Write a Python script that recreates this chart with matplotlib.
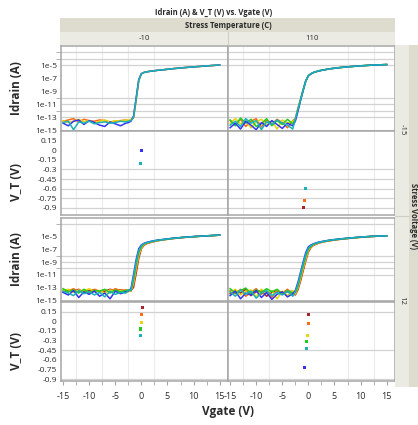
import matplotlib
matplotlib.use("Agg")
import matplotlib.pyplot as plt
from matplotlib.patches import Rectangle
from matplotlib.ticker import FixedLocator, NullFormatter

plt.rcParams["font.family"] = ["Open Sans", "DejaVu Sans"]

# ---- data -------------------------------------------------------------
VGATE = [-15, -14, -13, -12, -11, -10, -9, -8, -7, -6, -5, -4, -3,
         -2.5, -2, -1.5, -1, -0.5, 0, 0.5, 1, 2, 3, 4, 6, 8, 10, 12, 15]

TEMPS = ["-10", "110"]
VOLTS = ["-15", "12"]

# log10(Idrain) per sweep, one list per device colour
TL_BLUE = [-13.9, -14.3, -13.6, -13.4, -14.1, -13.5, -13.8, -14.2, -14.4, -13.7, -14.0, -14.3, -13.9,
           -13.8, -13.6, -12.8, -10.0, -7.2, -6.28, -6.1, -6.0, -5.88, -5.78, -5.7, -5.52, -5.37, -5.24, -5.12, -4.95]
TL_ORANGE = [-13.6, -13.4, -13.2, -13.7, -13.3, -13.5, -13.6, -13.4, -13.5, -13.8, -13.6, -13.5, -13.4,
             -13.5, -13.4, -13.1, -10.4, -7.4, -6.32, -6.1, -6.0, -5.88, -5.78, -5.7, -5.52, -5.37, -5.24, -5.12, -4.95]
TL_YELLOW = [-13.5, -13.8, -13.6, -13.3, -13.7, -13.5, -13.9, -13.6, -13.4, -13.7, -13.5, -13.6, -13.4,
             -13.5, -13.3, -13.0, -10.3, -7.3, -6.3, -6.1, -6.0, -5.88, -5.78, -5.7, -5.52, -5.37, -5.24, -5.12, -4.95]
TL_TEAL = [-13.8, -13.6, -14.9, -13.7, -13.9, -13.6, -14.0, -13.8, -13.7, -13.9, -13.8, -13.6, -13.7,
           -13.6, -13.5, -13.0, -10.2, -7.3, -6.3, -6.1, -6.0, -5.88, -5.78, -5.7, -5.52, -5.37, -5.24, -5.12, -4.95]

TR_BLUE = [-14.6, -13.9, -14.8, -13.6, -14.2, -14.9, -13.8, -14.4, -13.5, -14.1, -14.7, -13.9, -14.3,
           -13.6, -12.1, -10.4, -8.9, -7.4, -6.6, -6.3, -6.1, -5.85, -5.7, -5.55, -5.35, -5.2, -5.08, -4.98, -4.88]
TR_ORANGE = [-13.5, -14.1, -13.3, -14.4, -13.6, -13.2, -14.5, -13.4, -14.0, -13.3, -13.8, -14.6, -13.5,
             -13.2, -11.6, -10.2, -8.7, -7.4, -6.6, -6.3, -6.1, -5.85, -5.7, -5.55, -5.35, -5.2, -5.08, -4.98, -4.88]
TR_YELLOW = [-13.9, -13.2, -14.0, -13.5, -14.6, -13.7, -13.3, -14.2, -13.6, -14.8, -13.4, -13.9, -13.6,
             -13.4, -11.8, -10.3, -8.8, -7.4, -6.6, -6.3, -6.1, -5.85, -5.7, -5.55, -5.35, -5.2, -5.08, -4.98, -4.88]
TR_GREEN = [-13.4, -14.3, -13.1, -13.9, -13.3, -14.4, -14.0, -13.2, -14.3, -13.5, -14.1, -13.3, -14.0,
            -13.3, -11.7, -10.3, -8.8, -7.4, -6.6, -6.3, -6.1, -5.85, -5.7, -5.55, -5.35, -5.2, -5.08, -4.98, -4.88]
TR_TEAL = [-14.2, -13.6, -14.4, -13.2, -13.9, -13.5, -14.9, -13.7, -14.1, -13.4, -13.9, -14.2, -14.8,
           -13.3, -11.8, -10.3, -8.8, -7.4, -6.6, -6.3, -6.1, -5.85, -5.7, -5.55, -5.35, -5.2, -5.08, -4.98, -4.88]

BL_RED = [-13.7, -13.4, -13.6, -13.3, -13.8, -13.5, -13.4, -13.7, -13.6, -13.3, -13.5, -13.4, -13.6,
          -13.6, -13.5, -13.0, -10.8, -8.4, -6.9, -6.35, -6.1, -5.85, -5.66, -5.52, -5.3, -5.13, -5.0, -4.9, -4.76]
BL_ORANGE = [-13.4, -13.6, -13.2, -13.7, -13.5, -13.9, -13.3, -13.6, -13.4, -13.7, -13.2, -13.5, -13.4,
             -13.5, -13.6, -12.6, -10.3, -8.1, -6.8, -6.3, -6.06, -5.82, -5.64, -5.51, -5.29, -5.12, -5.0, -4.9, -4.76]
BL_YELLOW = [-13.5, -13.3, -13.8, -13.4, -13.6, -13.2, -13.7, -13.5, -13.9, -13.4, -13.6, -13.5, -13.8,
             -13.7, -13.5, -12.2, -9.8, -7.8, -6.7, -6.22, -6.02, -5.79, -5.62, -5.5, -5.28, -5.12, -5.0, -4.89, -4.76]
BL_GREEN = [-13.2, -13.7, -13.4, -13.9, -13.3, -13.8, -13.5, -13.6, -13.3, -13.9, -13.4, -13.7, -13.5,
            -13.4, -13.5, -11.8, -9.4, -7.5, -6.55, -6.15, -5.98, -5.76, -5.6, -5.48, -5.27, -5.11, -4.99, -4.89, -4.75]
BL_BLUE = [-13.8, -14.2, -13.5, -14.6, -13.7, -14.1, -13.6, -14.4, -13.9, -14.8, -13.6, -14.0, -13.7,
           -13.6, -13.2, -11.0, -8.6, -6.9, -6.3, -6.05, -5.9, -5.7, -5.55, -5.45, -5.25, -5.1, -4.98, -4.88, -4.75]
BL_TEAL = [-13.6, -13.9, -14.3, -13.5, -14.0, -13.7, -14.2, -13.8, -14.5, -13.6, -14.1, -13.8, -13.9,
           -13.5, -13.4, -11.4, -9.0, -7.2, -6.4, -6.1, -5.95, -5.73, -5.57, -5.47, -5.26, -5.11, -4.99, -4.88, -4.75]

BR_RED = [-14.0, -13.5, -13.9, -13.3, -14.3, -13.7, -13.5, -14.4, -13.8, -13.5, -14.0, -13.7, -13.6,
          -14.2, -13.4, -12.0, -10.4, -8.8, -7.4, -6.7, -6.35, -6.0, -5.8, -5.65, -5.42, -5.25, -5.1, -4.98, -4.86]
BR_ORANGE = [-13.5, -14.0, -13.3, -14.4, -13.8, -13.2, -14.1, -13.6, -14.6, -13.4, -13.9, -13.3, -14.2,
             -14.1, -13.2, -11.8, -10.2, -8.6, -7.25, -6.62, -6.3, -5.97, -5.78, -5.63, -5.41, -5.24, -5.09, -4.97, -4.86]
BR_YELLOW = [-13.8, -13.3, -14.2, -13.6, -13.4, -14.5, -13.3, -14.0, -13.5, -14.8, -13.6, -14.3, -13.5,
             -14.0, -13.0, -11.5, -9.9, -8.4, -7.1, -6.55, -6.25, -5.94, -5.76, -5.61, -5.39, -5.23, -5.08, -4.96, -4.86]
BR_GREEN = [-13.2, -13.9, -13.5, -13.1, -14.0, -13.4, -13.8, -13.2, -13.7, -13.3, -14.1, -13.5, -13.9,
            -13.8, -12.8, -11.2, -9.6, -8.1, -6.95, -6.5, -6.2, -5.91, -5.74, -5.59, -5.38, -5.22, -5.07, -4.96, -4.85]
BR_BLUE = [-14.3, -13.6, -14.8, -13.9, -14.2, -13.5, -14.6, -13.8, -14.9, -14.1, -13.7, -14.5, -14.0,
           -13.5, -12.2, -10.6, -9.0, -7.5, -6.6, -6.3, -6.1, -5.85, -5.7, -5.55, -5.35, -5.2, -5.05, -4.95, -4.85]
BR_TEAL = [-13.7, -14.4, -13.4, -14.1, -13.6, -14.7, -13.9, -13.5, -14.3, -13.8, -14.2, -13.6, -14.4,
           -13.7, -12.5, -10.9, -9.3, -7.8, -6.8, -6.4, -6.15, -5.88, -5.72, -5.57, -5.36, -5.21, -5.06, -4.95, -4.85]

# threshold voltage per device (plotted at Vgate = V_T)
VT_TL = [0.0, -0.2]
VT_TL_COLORS = ["blue", "teal"]
VT_TR = [-0.59, -0.79, -0.9]
VT_TR_COLORS = ["teal", "orange", "red"]
VT_BL = [0.21, 0.11, -0.02, -0.12, -0.22]
VT_BL_COLORS = ["red", "orange", "yellow", "green", "teal"]
VT_BR = [0.11, -0.03, -0.22, -0.32, -0.42, -0.72]
VT_BR_COLORS = ["red", "orange", "yellow", "green", "teal", "blue"]

COLORS = {"red": "#a8262a", "orange": "#ff6a12", "yellow": "#e8d40c",
          "green": "#1fcc1f", "teal": "#18b2b8", "blue": "#3434f2"}

IDRAIN = {
    (0, 0): [("orange", TL_ORANGE), ("yellow", TL_YELLOW), ("blue", TL_BLUE), ("teal", TL_TEAL)],
    (0, 1): [("orange", TR_ORANGE), ("yellow", TR_YELLOW), ("green", TR_GREEN), ("blue", TR_BLUE), ("teal", TR_TEAL)],
    (1, 0): [("red", BL_RED), ("orange", BL_ORANGE), ("yellow", BL_YELLOW), ("green", BL_GREEN),
             ("blue", BL_BLUE), ("teal", BL_TEAL)],
    (1, 1): [("red", BR_RED), ("orange", BR_ORANGE), ("yellow", BR_YELLOW), ("green", BR_GREEN),
             ("blue", BR_BLUE), ("teal", BR_TEAL)],
}
VT = {(0, 0): (VT_TL, VT_TL_COLORS), (0, 1): (VT_TR, VT_TR_COLORS),
      (1, 0): (VT_BL, VT_BL_COLORS), (1, 1): (VT_BR, VT_BR_COLORS)}

# ---- layout (pixels) ---------------------------------------------------
W, H = 418, 425
COL_X = [(61, 228), (228, 395)]
ROW_Y = [((46, 131), (131, 215)), ((218, 301), (302, 381))]
XLIM = (-15.4, 16.6)
ILIM = [(10 ** -15.1, 10 ** -2.03), (10 ** -15.15, 10 ** -2.05)]
VLIM = [(-1.01, 0.30), (-0.93, 0.30)]

VGRID = [[-12.5, -7.5, -2.5, 2.5], [-12.5, -7.5, 7.5, 12.5]]
IGRID = [[1e-3, 1e-4, 1e-5, 1e-10, 1e-11, 1e-12, 1e-13], [1e-3, 1e-8, 1e-9, 1e-10, 1e-11]]
VTGRID = [[-0.3, -0.45, -0.6, -0.75, -0.9], [0.15, -0.45, -0.9]]
ITICKS = [1e-5, 1e-7, 1e-9, 1e-11, 1e-13, 1e-15]
ILABELS = ["1e-5", "1e-7", "1e-9", "1e-11", "1e-13", "1e-15"]
VTICKS = [0.15, 0, -0.15, -0.3, -0.45, -0.6, -0.75, -0.9]
VLABELS = ["0.15", "0", "-0.15", "-0.3", "-0.45", "-0.6", "-0.75", "-0.9"]

FRAME = "#a6a6a6"
TXT = "#2a2a2a"


def rect(x0, y0, x1, y1):
    return [x0 / W, 1 - y1 / H, (x1 - x0) / W, (y1 - y0) / H]


def style(ax, col, hgrid, show_x):
    ax.set_xlim(*XLIM)
    for s in ax.spines.values():
        s.set_color(FRAME)
        s.set_linewidth(1.1)
    for v in VGRID[col]:
        ax.axvline(v, color="#ebebeb", lw=0.8, zorder=0)
    for h in hgrid:
        ax.axhline(h, color="#d2d2d2", lw=0.9, zorder=0)
    ax.yaxis.set_minor_locator(FixedLocator(hgrid))
    ax.yaxis.set_minor_formatter(NullFormatter())
    ax.tick_params(axis="y", which="major", length=0, pad=3, labelsize=6, colors=TXT)
    ax.tick_params(axis="y", which="minor", length=3.5 if col == 0 else 0, color=FRAME)
    if col == 1:
        ax.tick_params(axis="y", labelleft=False)
    ax.set_xticks([-15, -10, -5, 0, 5, 10, 15])
    ax.set_xticks([-12.5, -7.5, -2.5, 2.5, 7.5, 12.5], minor=True)
    if show_x:
        ax.tick_params(axis="x", which="both", length=3, color=FRAME, pad=5,
                       labelsize=6.5, labelcolor=TXT)
        ax.set_xticklabels(["-15", "-10", "-5", "0", "5", "10", "15"])
    else:
        ax.tick_params(axis="x", which="both", length=0, labelbottom=False)


fig = plt.figure(figsize=(W / 100, H / 100), dpi=100)

for r in range(2):
    (iy0, iy1), (vy0, vy1) = ROW_Y[r]
    for c in range(2):
        x0, x1 = COL_X[c]
        ax = fig.add_axes(rect(x0, iy0, x1, iy1))
        ax.set_yscale("log")
        ax.set_ylim(*ILIM[r])
        for name, vals in IDRAIN[(r, c)]:
            ax.plot(VGATE, [10 ** v for v in vals], color=COLORS[name], lw=1.1)
        ax.set_yticks(ITICKS)
        ax.set_yticklabels(ILABELS)
        style(ax, c, IGRID[r], False)

        ax = fig.add_axes(rect(x0, vy0, x1, vy1))
        ax.set_ylim(*VLIM[r])
        vals, names = VT[(r, c)]
        ax.scatter(vals, vals, s=5, marker="s", linewidths=0,
                   c=[COLORS[n] for n in names], zorder=3)
        ax.set_yticks(VTICKS)
        ax.set_yticklabels(VLABELS)
        style(ax, c, VTGRID[r], r == 1)

    fig.text(16 / W, 1 - (iy0 + iy1) / 2 / H, "Idrain (A)", rotation=90, ha="center",
             va="center", fontsize=8.5, fontweight="bold", color=TXT)
    fig.text(16 / W, 1 - (vy0 + vy1 + 18) / 2 / H, "V_T (V)", rotation=90, ha="center",
             va="center", fontsize=8.5, fontweight="bold", color=TXT)

# header strips
bands = [(60, 18, 395, 32, "#dedccf"), (60, 32, 395, 45, "#ecebe3"),
         (395, 45, 409, 387, "#ecebe3"), (409, 45, 418, 387, "#dedccf")]
for bx0, by0, bx1, by1, fc in bands:
    x, y, w, h = rect(bx0, by0, bx1, by1)
    fig.patches.append(Rectangle((x, y), w, h, transform=fig.transFigure,
                                 facecolor=fc, edgecolor="none", zorder=0))
fig.add_artist(plt.Line2D([228 / W, 228 / W], [1 - 32 / H, 1 - 45 / H], color="#d0cfc4", lw=0.8))
fig.add_artist(plt.Line2D([395 / W, 409 / W], [1 - 216 / H, 1 - 216 / H], color="#d0cfc4", lw=0.8))

fig.text(214 / W, 1 - 12 / H, "Idrain (A) & V_T (V) vs. Vgate (V)", ha="center", va="center",
         fontsize=5.5, fontweight="bold", color=TXT)
fig.text(228 / W, 1 - 25 / H, "Stress Temperature (C)", ha="center", va="center",
         fontsize=5.5, fontweight="bold", color=TXT)
for (cx0, cx1), t in zip(COL_X, TEMPS):
    fig.text((cx0 + cx1) / 2 / W, 1 - 39 / H, t, ha="center", va="center", fontsize=5.5, color=TXT)
for ry, v in zip([130, 300], VOLTS):
    fig.text(402 / W, 1 - ry / H, v, rotation=-90, ha="center", va="center", fontsize=5.5, color=TXT)
fig.text(413.5 / W, 1 - 216 / H, "Stress Voltage (V)", rotation=-90, ha="center", va="center",
         fontsize=5.5, fontweight="bold", color=TXT)

fig.text(228 / W, 1 - 411 / H, "Vgate (V)", ha="center", va="center",
         fontsize=8.5, fontweight="bold", color=TXT)

fig.savefig("out.png", dpi=100, facecolor="white")
